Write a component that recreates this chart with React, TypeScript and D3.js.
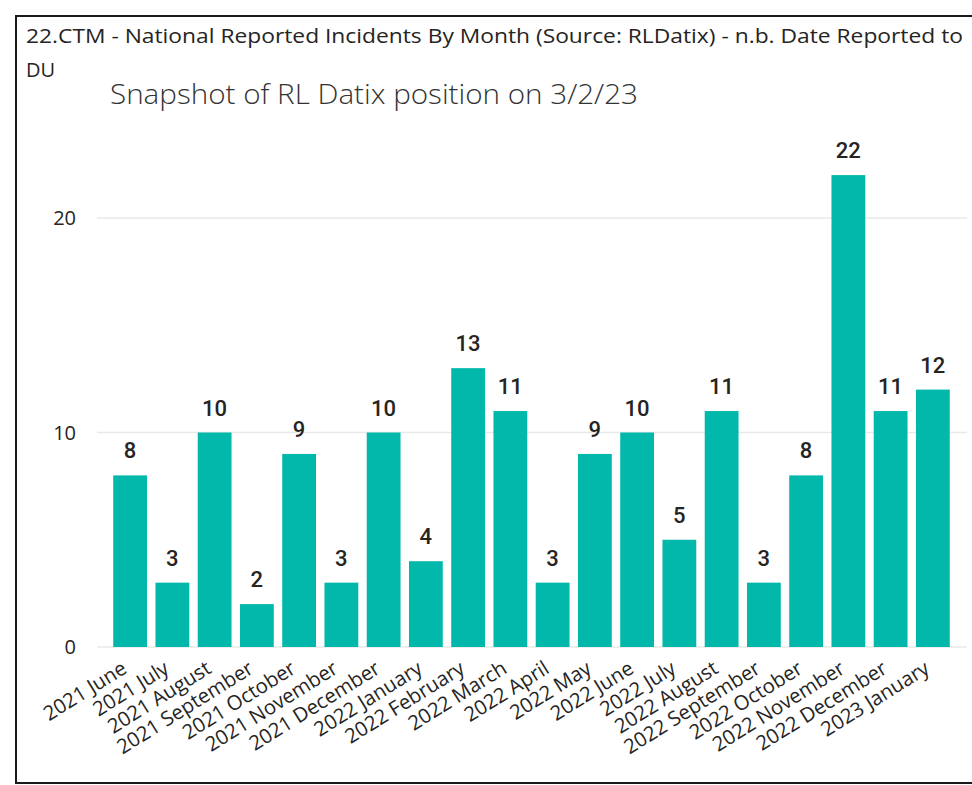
import React from "react";
import * as d3 from "d3";

const categories = [
  "2021 June", "2021 July", "2021 August", "2021 September", "2021 October",
  "2021 November", "2021 December", "2022 January", "2022 February", "2022 March",
  "2022 April", "2022 May", "2022 June", "2022 July", "2022 August",
  "2022 September", "2022 October", "2022 November", "2022 December", "2023 January",
];
const values = [8, 3, 10, 2, 9, 3, 10, 4, 13, 11, 3, 9, 10, 5, 11, 3, 8, 22, 11, 12];
const yTicks = [0, 10, 20];
const titleText = "22.CTM - National Reported Incidents By Month (Source: RLDatix) - n.b. Date Reported to";
const titleLine2 = "DU";
const subtitleText = "Snapshot of RL Datix position on 3/2/23";

const W = 972;
const H = 785;

export default function App() {
  const x = d3.scaleBand<string>().domain(categories).range([109, 954]).paddingInner(0.2).paddingOuter(0.1);
  const y = d3.scaleLinear().domain([0, 10]).range([647, 432.5]);
  const font = "'Segoe UI', 'Open Sans', 'Noto Sans', sans-serif";
  return (
    <svg width={W} height={H} style={{ position: "absolute", left: 0, top: 0 }}>
      <rect x={0} y={0} width={W} height={H} fill="#fff" />
      <rect x={16} y={16} width={W + 10} height={767} fill="#fff" stroke="#1a1a1a" strokeWidth={2} />
      <text x={26} y={43} fontFamily={font} fontSize={20} fill="#252423" textLength={937} lengthAdjust="spacingAndGlyphs">{titleText}</text>
      <text x={26} y={77} fontFamily={font} fontSize={20} fill="#252423">{titleLine2}</text>
      <text x={110} y={104} fontFamily={font} fontSize={28} fontWeight={300} fill="#333" textLength={528} lengthAdjust="spacingAndGlyphs">{subtitleText}</text>
      {yTicks.map((t) => (
        <g key={t}>
          <line x1={97} x2={967} y1={y(t)} y2={y(t)} stroke="#e9e9e9" strokeWidth={1.5} />
          <text x={76} y={y(t)} dy="0.35em" textAnchor="end" fontFamily={font} fontSize={20} fill="#252423">{t}</text>
        </g>
      ))}
      {categories.map((c, i) => (
        <g key={c}>
          <rect x={x(c)} y={y(values[i])} width={x.bandwidth()} height={y(0) - y(values[i])} fill="#01B8AA" />
          <text x={(x(c) as number) + x.bandwidth() / 2} y={y(values[i]) - 17} textAnchor="middle" fontFamily="'DIN', Roboto, sans-serif" fontWeight={500} fontSize={22} fill="#252423">{values[i]}</text>
          <text transform={`translate(${(x(c) as number) + x.bandwidth() / 2 - 2},${672}) rotate(-32)`} textAnchor="end" fontFamily={font} fontSize={20.3} fill="#252423">{c}</text>
        </g>
      ))}
    </svg>
  );
}
